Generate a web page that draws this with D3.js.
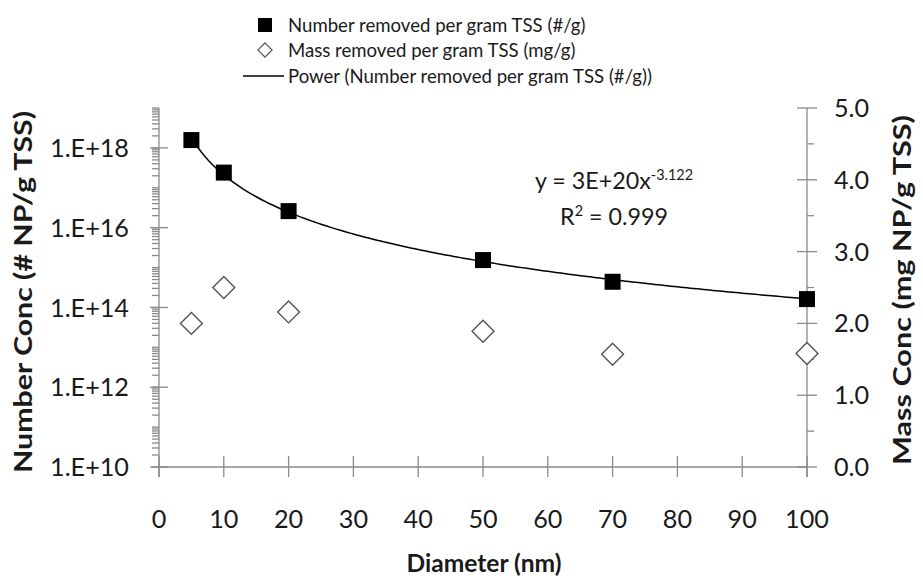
<!DOCTYPE html>
<html><head><meta charset="utf-8">
<script src="https://cdn.jsdelivr.net/npm/d3@7"></script>
<style>
body{margin:0;background:#fff;}
text{font-family:Lato,"Open Sans",sans-serif;fill:#1a1a1a;}
</style></head>
<body><svg id="c" width="923" height="580"></svg>
<script>
// ---- data ----
const diameters = [5, 10, 20, 50, 70, 100];
const numberRemoved = [1.57e18, 2.4e17, 2.6e16, 1.54e15, 4.4e14, 1.62e14]; // #/g
const massRemoved = [2.00, 2.50, 2.16, 1.89, 1.57, 1.58]; // mg/g
const xTicks = [0,10,20,30,40,50,60,70,80,90,100];
const leftTicks = [1e10, 1e12, 1e14, 1e16, 1e18];
const leftTickLabels = ["1.E+10","1.E+12","1.E+14","1.E+16","1.E+18"];
const rightTicks = [0,1,2,3,4,5];
const legendLabels = ["Number removed per gram TSS (#/g)","Mass removed per gram TSS (mg/g)","Power (Number removed per gram TSS (#/g))"];
const eqMain = "y = 3E+20x", eqExp = "-3.122", r2Value = "0.999";

const svg = d3.select("#c");
const axisCol = "#8a8a8a";
const x = d3.scaleLinear().domain([0,100]).range([159,807]);
const yL = d3.scaleLog().domain([1e10,1e19]).range([467,108]);
const yR = d3.scaleLinear().domain([0,5]).range([467,108]);

// font size that makes a string reach a given width
function fitSize(str, target, weight){
  const t = svg.append("text").attr("font-size",100).attr("font-weight",weight||"normal").text(str);
  const w = t.node().getComputedTextLength(); t.remove();
  return 100*target/w;
}
const tickFs = fitSize("1.E+18", 79);
const xTitleFs = fitSize("Diameter (nm)", 155, "bold");
const vTitleFs = 25.5;
const legFs = fitSize(legendLabels[2], 364);
const eqFs = fitSize(eqMain, 116);
const supFs = eqFs*0.62;

// axes lines
const g = svg.append("g").attr("stroke",axisCol).attr("stroke-width",1.3);
g.append("line").attr("x1",x(0)).attr("x2",x(100)).attr("y1",467).attr("y2",467);
g.append("line").attr("x1",x(0)).attr("x2",x(0)).attr("y1",yL(1e19)).attr("y2",477);
g.append("line").attr("x1",x(100)).attr("x2",x(100)).attr("y1",yR(5)).attr("y2",477);

// x ticks
xTicks.forEach(t=>{
  g.append("line").attr("x1",x(t)).attr("x2",x(t)).attr("y1",456).attr("y2",477);
});
svg.append("g").selectAll("text").data(xTicks).join("text")
  .attr("x",d=>x(d)).attr("y",528).attr("text-anchor","middle")
  .attr("font-size",tickFs).text(d=>d);

// left log minor ticks
const minor = [];
for(let n=10;n<19;n++){ for(let k=1;k<10;k++){ minor.push(k*Math.pow(10,n)); } }
minor.push(1e19);
minor.forEach(v=>{
  g.append("line").attr("x1",x(0)-7).attr("x2",x(0)).attr("y1",yL(v)).attr("y2",yL(v));
});
leftTicks.forEach(v=>{
  g.append("line").attr("x1",x(0)-9).attr("x2",x(0)+9).attr("y1",yL(v)).attr("y2",yL(v));
});
svg.append("g").selectAll("text").data(leftTicks).join("text")
  .attr("x",129).attr("y",d=>yL(d)+tickFs*0.36).attr("text-anchor","end")
  .attr("font-size",tickFs).text((d,i)=>leftTickLabels[i]);

// right ticks
rightTicks.forEach(v=>{
  g.append("line").attr("x1",x(100)-10).attr("x2",x(100)+10).attr("y1",yR(v)).attr("y2",yR(v));
  if(v<5) g.append("line").attr("x1",x(100)).attr("x2",x(100)+7).attr("y1",yR(v+0.5)).attr("y2",yR(v+0.5));
});
svg.append("g").selectAll("text").data(rightTicks).join("text")
  .attr("x",834).attr("y",d=>yR(d)+tickFs*0.36).attr("text-anchor","start")
  .attr("font-size",tickFs).text(d=>d.toFixed(1));

// axis titles (stretched along their length like the reference)
svg.append("text").attr("transform","translate(32,292) rotate(-90)")
  .attr("text-anchor","middle").attr("font-size",vTitleFs).attr("font-weight","bold")
  .attr("textLength",362).attr("lengthAdjust","spacingAndGlyphs")
  .text("Number Conc (# NP/g TSS)");
svg.append("text").attr("transform","translate(911,290) rotate(-90)")
  .attr("text-anchor","middle").attr("font-size",vTitleFs).attr("font-weight","bold")
  .attr("textLength",350).attr("lengthAdjust","spacingAndGlyphs")
  .text("Mass Conc (mg NP/g TSS)");
svg.append("text").attr("x",484).attr("y",572).attr("text-anchor","middle")
  .attr("font-size",xTitleFs).attr("font-weight","bold").text("Diameter (nm)");

// power trendline fitted from the data (log-log least squares)
const lx = diameters.map(Math.log), ly = numberRemoved.map(Math.log);
const mx = d3.mean(lx), my = d3.mean(ly);
const b = d3.sum(lx.map((v,i)=>(v-mx)*(ly[i]-my)))/d3.sum(lx.map(v=>(v-mx)*(v-mx)));
const a = Math.exp(my - b*mx);
const xs = d3.range(5, 100.01, 0.5);
svg.append("path").datum(xs)
  .attr("d", d3.line().x(d=>x(d)).y(d=>yL(a*Math.pow(d,b))))
  .attr("fill","none").attr("stroke","#000").attr("stroke-width",1.5);

// mass diamonds
svg.append("g").selectAll("path").data(diameters).join("path")
  .attr("d", d3.symbol().type(d3.symbolSquare).size(240))
  .attr("transform",(d,i)=>`translate(${x(d)},${yR(massRemoved[i])}) rotate(45)`)
  .attr("fill","#fff").attr("stroke","#555").attr("stroke-width",1.4);

// number squares
svg.append("g").selectAll("rect").data(diameters).join("rect")
  .attr("x",d=>x(d)-8).attr("y",(d,i)=>yL(numberRemoved[i])-8)
  .attr("width",16).attr("height",16).attr("fill","#000");

// legend
const lg = svg.append("g");
const rowsY = [25, 50, 76];
lg.append("rect").attr("x",258).attr("y",rowsY[0]-7).attr("width",14).attr("height",14).attr("fill","#000");
lg.append("path").attr("d",d3.symbol().type(d3.symbolSquare).size(100))
  .attr("transform",`translate(265,${rowsY[1]}) rotate(45)`).attr("fill","#fff").attr("stroke","#555").attr("stroke-width",1.2);
lg.append("line").attr("x1",243).attr("x2",284).attr("y1",rowsY[2]).attr("y2",rowsY[2]).attr("stroke","#000").attr("stroke-width",1.3);
lg.selectAll("text").data(legendLabels).join("text")
  .attr("x",288).attr("y",(d,i)=>rowsY[i]+legFs*0.36).attr("font-size",legFs).text(d=>d);

// equation (centered)
const eq = svg.append("text").attr("x",614).attr("y",189).attr("text-anchor","middle").attr("font-size",eqFs);
eq.append("tspan").text(eqMain);
eq.append("tspan").attr("dy",-9).attr("font-size",supFs).text(eqExp);
const r2 = svg.append("text").attr("x",614).attr("y",225).attr("text-anchor","middle").attr("font-size",eqFs);
r2.append("tspan").text("R");
r2.append("tspan").attr("dy",-9).attr("font-size",supFs).text("2");
r2.append("tspan").attr("dy",9).text(" = " + r2Value);
</script></body></html>
